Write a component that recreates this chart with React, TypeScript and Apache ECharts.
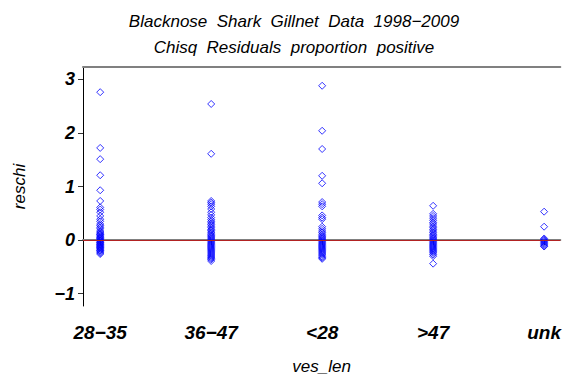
import React, { useEffect, useRef } from "react";
import * as echarts from "echarts";

const categories = ["28\u221235", "36\u221247", "<28", ">47", "unk"];
const yTicks = [-1, 0, 1, 2, 3];

const res2835 = [2.76, 1.72, 1.51, 1.21, 0.93, 0.73, 0.61, 0.57, 0.52, 0.45, 0.39, 0.35, 0.3, 0.27, 0.24, 0.21, 0.17, 0.15, 0.13, 0.11, 0.1, 0.08, 0.06, 0.05, 0.03, 0.02, 0.0, -0.01, -0.02, -0.04, -0.05, -0.06, -0.08, -0.09, -0.1, -0.12, -0.13, -0.14, -0.16, -0.17, -0.19, -0.2, -0.22, -0.24, -0.26];
const res3647 = [2.54, 1.61, 0.73, 0.7, 0.67, 0.63, 0.58, 0.52, 0.47, 0.42, 0.38, 0.35, 0.32, 0.29, 0.26, 0.23, 0.2, 0.18, 0.15, 0.13, 0.1, 0.08, 0.06, 0.04, 0.02, 0.0, -0.02, -0.04, -0.06, -0.08, -0.1, -0.12, -0.14, -0.16, -0.18, -0.2, -0.22, -0.24, -0.26, -0.28, -0.3, -0.32, -0.34, -0.36, -0.39];
const resLt28 = [2.88, 2.04, 1.7, 1.2, 1.06, 0.71, 0.67, 0.63, 0.46, 0.42, 0.39, 0.25, 0.21, 0.17, 0.14, 0.11, 0.08, 0.06, 0.04, 0.02, 0.0, -0.02, -0.04, -0.06, -0.08, -0.1, -0.12, -0.14, -0.16, -0.18, -0.2, -0.22, -0.24, -0.26, -0.28, -0.31, -0.33, -0.35];
const resGt47 = [0.64, 0.49, 0.45, 0.41, 0.37, 0.33, 0.3, 0.26, 0.23, 0.2, 0.17, 0.14, 0.11, 0.09, 0.06, 0.04, 0.02, 0.0, -0.02, -0.04, -0.06, -0.08, -0.1, -0.12, -0.14, -0.16, -0.18, -0.2, -0.22, -0.24, -0.27, -0.3, -0.44];
const resUnk = [0.53, 0.25, 0.03, 0.01, -0.01, -0.03, -0.05, -0.07, -0.09, -0.11, -0.12];

const groups = [res2835, res3647, resLt28, resGt47, resUnk];

const FONT = "Liberation Sans";

export default function App() {
  const ref = useRef<HTMLDivElement>(null);
  useEffect(() => {
    const chart = echarts.init(ref.current!, null, { renderer: "svg" });
    const data: number[][] = [];
    groups.forEach((g, i) => g.forEach((v) => data.push([i + 1, v])));
    chart.setOption({
      animation: false,
      title: {
        text: "Blacknose  Shark  Gillnet  Data  1998\u22122009\nChisq  Residuals  proportion  positive",
        left: 289,
        top: 3,
        textAlign: "center",
        textStyle: {
          fontFamily: FONT,
          fontStyle: "italic",
          fontWeight: "normal",
          fontSize: 17,
          lineHeight: 26,
          color: "#000",
        },
      },
      grid: { left: 83, right: 0, top: 67, bottom: 73 },
      xAxis: [
        {
          type: "value",
          min: 0.845,
          max: 5.146,
          name: "ves_len",
          nameLocation: "middle",
          nameGap: 52,
          nameTextStyle: { fontFamily: FONT, fontStyle: "italic", fontSize: 17, color: "#000" },
          axisLine: { show: true, lineStyle: { color: "#808080", width: 2 } },
          axisTick: { show: true, length: 5, customValues: [1, 2, 3, 4, 5], lineStyle: { color: "#333" } },
          axisLabel: {
            customValues: [1, 2, 3, 4, 5],
            formatter: (v: number) => categories[Math.round(v) - 1] ?? "",
            margin: 17,
            fontFamily: FONT,
            fontStyle: "italic",
            fontWeight: "bold",
            fontSize: 19,
            color: "#000",
          },
          splitLine: { show: false },
        },
        {
          type: "value",
          position: "top",
          min: 0.845,
          max: 5.146,
          axisLine: { show: true, lineStyle: { color: "#808080", width: 2 } },
          axisTick: { show: false },
          axisLabel: { show: false },
          splitLine: { show: false },
        },
      ],
      yAxis: {
        type: "value",
        min: -1.23,
        max: 3.23,
        name: "reschi",
        nameLocation: "middle",
        nameGap: 55,
        nameTextStyle: { fontFamily: FONT, fontStyle: "italic", fontSize: 17, color: "#000" },
        axisLine: { show: true, lineStyle: { color: "#000", width: 1 } },
        axisTick: { show: true, length: 5, customValues: yTicks, lineStyle: { color: "#333" } },
        axisLabel: {
          customValues: yTicks,
          formatter: (v: number) => (v < 0 ? "\u2212" + Math.abs(v) : String(v)),
          margin: 8,
          fontFamily: FONT,
          fontStyle: "italic",
          fontWeight: "bold",
          fontSize: 18,
          color: "#000",
        },
        splitLine: { show: false },
      },
      series: [
        {
          type: "scatter",
          data,
          symbol: "diamond",
          symbolSize: 7,
          itemStyle: { color: "rgba(0,0,0,0)", borderColor: "#0000FF", borderWidth: 1 },
          markLine: {
            silent: true,
            symbol: "none",
            label: { show: false },
            lineStyle: { color: "#B22222", width: 1, type: "solid" },
            data: [{ yAxis: 0 }],
          },
          z: 3,
        },
      ],
    });
    return () => chart.dispose();
  }, []);
  return <div ref={ref} style={{ width: 564, height: 380, position: "absolute", left: 0, top: 0 }} />;
}
